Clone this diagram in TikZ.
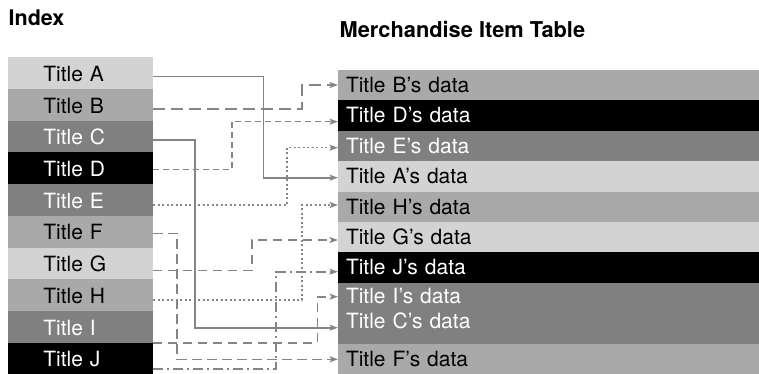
\documentclass[tikz,border=0pt]{standalone}
\usepackage{fontspec}
\setmainfont{TeX Gyre Heros}
\usetikzlibrary{arrows.meta}
\definecolor{cl}{HTML}{D3D3D3}
\definecolor{cm}{HTML}{A9A9A9}
\definecolor{cd}{HTML}{808080}
\definecolor{ln}{HTML}{858585}
\begin{document}
\begin{tikzpicture}[x=1pt,y=-1pt,
  lrow/.style={minimum width=145pt, minimum height=31.7pt, inner xsep=35.3pt, inner ysep=0pt,
    text width=74.4pt, align=left, text height=16.5pt, text depth=0pt,
    font=\fontsize{21}{25}\selectfont, outer sep=0pt},
  rrow/.style={minimum width=421pt, minimum height=30.4pt, inner xsep=8pt, inner ysep=0pt,
    text width=405pt, align=left, text height=14.4pt, text depth=0pt,
    font=\fontsize{21}{25}\selectfont, outer sep=0pt},
  head/.style={anchor=base west, inner sep=0pt, font=\bfseries\fontsize{#1}{24}\selectfont},
  conn/.style={draw=ln, line width=1.6pt, -{Stealth[length=8.5pt,width=6pt,inset=2pt]}},
  dlong/.style={dash pattern=on 12pt off 6pt},
  dmed/.style={dash pattern=on 6pt off 4pt},
  dnorm/.style={dash pattern=on 9pt off 6pt},
  dF/.style={dash pattern=on 10pt off 5pt},
  dotline/.style={dash pattern=on 2pt off 2.5pt},
  dashdotline/.style={dash pattern=on 10pt off 4pt on 2pt off 4pt}
]
\fill[white] (0,0) rectangle (759,374);
\useasboundingbox (0,0) rectangle (759,374);

\node[head=21.5] (hIdx) at (8.5,26) {Index};
\node[head=21.8] (hTab) at (339.5,38) {Merchandise Item Table};

% index rows
\node[lrow, fill=cl, text=black] (lA) at (80.5,73.15) {Title A};
\node[lrow, fill=cm, text=black] (lB) at (80.5,104.85) {Title B};
\node[lrow, fill=cd, text=white] (lC) at (80.5,136.55) {Title C};
\node[lrow, fill=black, text=white] (lD) at (80.5,168.25) {Title D};
\node[lrow, fill=cd, text=white] (lE) at (80.5,199.95) {Title E};
\node[lrow, fill=cm, text=black] (lF) at (80.5,231.65) {Title F};
\node[lrow, fill=cl, text=black] (lG) at (80.5,263.35) {Title G};
\node[lrow, fill=cm, text=black] (lH) at (80.5,295.05) {Title H};
\node[lrow, fill=cd, text=white] (lI) at (80.5,326.75) {Title I};
\node[lrow, fill=black, text=white] (lJ) at (80.5,358.45) {Title J};

% table rows
\node[rrow, fill=cm, text=black] (rB) at (548.5,85.2) {Title B’s data};
\node[rrow, fill=black, text=white] (rD) at (548.5,115.6) {Title D’s data};
\node[rrow, fill=cd, text=white] (rE) at (548.5,146.0) {Title E’s data};
\node[rrow, fill=cl, text=black] (rA) at (548.5,176.4) {Title A’s data};
\node[rrow, fill=cm, text=black] (rH) at (548.5,206.8) {Title H’s data};
\node[rrow, fill=cl, text=black] (rG) at (548.5,237.2) {Title G’s data};
\node[rrow, fill=black, text=white] (rJ) at (548.5,267.6) {Title J’s data};
\node[rrow, fill=cd, text=white, minimum height=60.8pt, text depth=33pt] (rIC) at (548.5,313.2) {Title I’s data\\Title C’s data};
\node[rrow, fill=cm, text=black] (rF) at (548.5,358.8) {Title F’s data};

% connectors
\draw[conn] (lA.east |- 0,76.7) -| (263.3,177.7) -- (rA.west |- 0,177.7);
\draw[conn, dlong] (lB.east |- 0,109.3) -| (301.7,85) -- (rB.west |- 0,85);
\draw[conn] (lC.east |- 0,140) -| (195,327.7) -- (rIC.west |- 0,327.7);
\draw[conn, dmed] (lD.east |- 0,169.3) -| (231.7,121.7) -- (rD.west |- 0,121.7);
\draw[conn, dotline] (lE.east |- 0,205) -| (286.7,147.7) -- (rE.west |- 0,147.7);
\draw[conn, dF] (lF.east |- 0,233.3) -| (177,359.3) -- (rF.west |- 0,359.3);
\draw[conn, dnorm] (lG.east |- 0,270.3) -| (251.7,240) -- (rG.west |- 0,240);
\draw[conn, dotline] (lH.east |- 0,300) -| (301.7,205) -- (rH.west |- 0,205);
\draw[conn, dnorm] (lI.east |- 0,342.7) -| (317.3,296.7) -- (rIC.west |- 0,296.7);
\draw[conn, dashdotline] (lJ.east |- 0,369) -| (276,271.7) -- (rJ.west |- 0,271.7);
\end{tikzpicture}
\end{document}
